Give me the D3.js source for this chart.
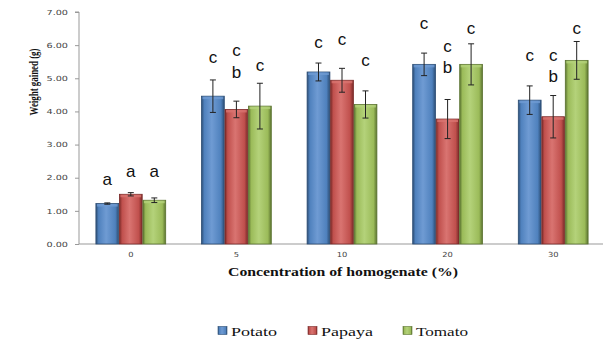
<!DOCTYPE html>
<html><head><meta charset="utf-8">
<script src="https://cdn.jsdelivr.net/npm/d3@7"></script>
<style>body{margin:0;background:#fff}svg{display:block}
.serif{font-family:"Liberation Serif","Times New Roman","DejaVu Serif",serif}
.sans{font-family:"Liberation Sans",Arial,sans-serif}
.tick text{font-family:"DejaVu Sans",Verdana,sans-serif}
</style>
</head><body>
<script>
const categories = ["0", "5", "10", "20", "30"];
const seriesNames = ["Potato", "Papaya", "Tomato"];
const potato = [1.22, 4.46, 5.19, 5.42, 4.34];
const papaya = [1.50, 4.06, 4.94, 3.77, 3.84];
const tomato = [1.32, 4.16, 4.21, 5.42, 5.54];
const potatoErr = [0.02, 0.49, 0.27, 0.34, 0.43];
const papayaErr = [0.05, 0.25, 0.36, 0.59, 0.64];
const tomatoErr = [0.07, 0.69, 0.41, 0.62, 0.57];
// significance letters: [series index, category index, letter, height in g]
const letters = [
  [0,0,"a",1.93],[1,0,"a",2.18],[2,0,"a",2.18],
  [0,1,"c",5.63],[1,1,"c",5.83],[1,1,"b",5.17],[2,1,"c",5.37],
  [0,2,"c",6.08],[1,2,"c",6.15],[2,2,"c",5.53],
  [0,3,"c",6.64],[1,3,"c",5.95],[1,3,"b",5.32],[2,3,"c",6.48],
  [0,4,"c",5.68],[1,4,"c",5.68],[1,4,"b",5.05],[2,4,"c",6.48]
];
const yTicks = [0,1,2,3,4,5,6,7];

const values = [potato, papaya, tomato];
const errs = [potatoErr, papayaErr, tomatoErr];
const colors = ["#4F81BD", "#C0504D", "#9BBB59"];
const darks = ["#2c4d74", "#7a2a28", "#5b7330"];
const lights = ["#6f9bd3", "#d97471", "#b4d27a"];

const W = 603, H = 343;
const svg = d3.select("body").append("svg").attr("width", W).attr("height", H);
const defs = svg.append("defs");
colors.forEach((c, i) => {
  const g = defs.append("linearGradient").attr("id", "g" + i).attr("x1", 0).attr("x2", 1).attr("y1", 0).attr("y2", 0);
  g.append("stop").attr("offset", "0%").attr("stop-color", darks[i]);
  g.append("stop").attr("offset", "12%").attr("stop-color", c);
  g.append("stop").attr("offset", "45%").attr("stop-color", lights[i]);
  g.append("stop").attr("offset", "85%").attr("stop-color", c);
  g.append("stop").attr("offset", "100%").attr("stop-color", darks[i]);
});

const x = d3.scaleBand().domain(categories).range([78, 606]).paddingInner(0).paddingOuter(0);
const y = d3.scaleLinear().domain([0, 7]).range([244, 12]);
const barW = 22.6;
const xs = d3.scaleBand().domain(d3.range(3)).range([0, barW * 3 + 2]).paddingInner(0.03);

// y axis
const yAxis = d3.axisLeft(y).tickValues(yTicks).tickFormat(d3.format(".2f")).tickSize(4).tickPadding(7);
const ya = svg.append("g").attr("transform", "translate(79,0)").call(yAxis);
ya.attr("font-family", null);
ya.select(".domain").attr("stroke", "#999").attr("d", "M-4,12H0V244");
ya.selectAll(".tick line").attr("stroke", "#999");
ya.selectAll(".tick text").attr("font-size", 7).attr("fill", "#444")
  .attr("textLength", 21.5).attr("lengthAdjust", "spacingAndGlyphs");

// x axis
const xAxis = d3.axisBottom(x).tickSize(0).tickPadding(8);
const xa = svg.append("g").attr("transform", "translate(0,244)").call(xAxis);
xa.attr("font-family", null);
xa.select(".domain").attr("stroke", "#999").attr("d", "M79,0H603");
xa.selectAll(".tick text").attr("font-size", 7).attr("fill", "#444")
  .attr("textLength", d => d.length * 5.3).attr("lengthAdjust", "spacingAndGlyphs");

// bars
const off = (x.bandwidth() - xs.range()[1]) / 2;
const groups = svg.append("g").selectAll("g").data(categories).join("g")
  .attr("transform", d => `translate(${x(d) + off},0)`);
values.forEach((vals, si) => {
  groups.append("rect")
    .attr("x", xs(si)).attr("width", xs.bandwidth())
    .attr("y", (d, ci) => y(vals[ci])).attr("height", (d, ci) => y(0) - y(vals[ci]))
    .attr("fill", `url(#g${si})`).attr("stroke", darks[si]).attr("stroke-width", 0.8);
  groups.append("rect")
    .attr("x", xs(si) + 1).attr("width", xs.bandwidth() - 2)
    .attr("y", (d, ci) => y(vals[ci]) + 0.5).attr("height", 2.5)
    .attr("fill", lights[si]).attr("opacity", 0.8);
  // error bars
  const eb = groups.append("g").attr("stroke", "#222").attr("stroke-width", 1);
  const cx = xs(si) + xs.bandwidth() / 2;
  eb.append("line").attr("x1", cx).attr("x2", cx)
    .attr("y1", (d, ci) => y(vals[ci] + errs[si][ci])).attr("y2", (d, ci) => y(vals[ci] - errs[si][ci]));
  eb.append("line").attr("x1", cx - 3).attr("x2", cx + 3)
    .attr("y1", (d, ci) => y(vals[ci] + errs[si][ci])).attr("y2", (d, ci) => y(vals[ci] + errs[si][ci]));
  eb.append("line").attr("x1", cx - 3).attr("x2", cx + 3)
    .attr("y1", (d, ci) => y(vals[ci] - errs[si][ci])).attr("y2", (d, ci) => y(vals[ci] - errs[si][ci]));
});

// letters
svg.append("g").attr("class", "sans").selectAll("text").data(letters).join("text")
  .attr("x", d => x(categories[d[1]]) + off + xs(d[0]) + xs.bandwidth() / 2)
  .attr("y", d => y(d[3]))
  .attr("dy", "0.3em")
  .attr("text-anchor", "middle")
  .attr("font-size", 17).attr("fill", "#111")
  .text(d => d[2]);

// axis titles
svg.append("text").attr("class", "serif").attr("transform", "translate(38,82) rotate(-90)")
  .attr("text-anchor", "middle")
  .attr("font-weight", "bold").attr("font-size", 13.5).attr("fill", "#111")
  .attr("textLength", 67).attr("lengthAdjust", "spacingAndGlyphs").text("Weight gained (g)");
svg.append("text").attr("class", "serif").attr("x", 343).attr("y", 276)
  .attr("text-anchor", "middle")
  .attr("font-weight", "bold").attr("font-size", 13.5).attr("fill", "#111")
  .attr("textLength", 230).attr("lengthAdjust", "spacingAndGlyphs")
  .text("Concentration of homogenate (%)");

// legend
const legX = [218, 308, 403];
const legLen = [46, 52, 52];
const leg = svg.append("g").selectAll("g").data(seriesNames).join("g")
  .attr("transform", (d, i) => `translate(${legX[i]},331)`);
leg.append("rect").attr("x", 0).attr("y", -4.5).attr("width", 9).attr("height", 8)
  .attr("fill", (d, i) => `url(#g${i})`).attr("stroke", (d, i) => darks[i]).attr("stroke-width", 0.6);
leg.append("text").attr("class", "serif").attr("x", 13).attr("y", 4.5)
  .attr("font-size", 13).attr("fill", "#111")
  .attr("textLength", (d, i) => legLen[i]).attr("lengthAdjust", "spacingAndGlyphs")
  .text(d => d);
</script>
</body></html>
